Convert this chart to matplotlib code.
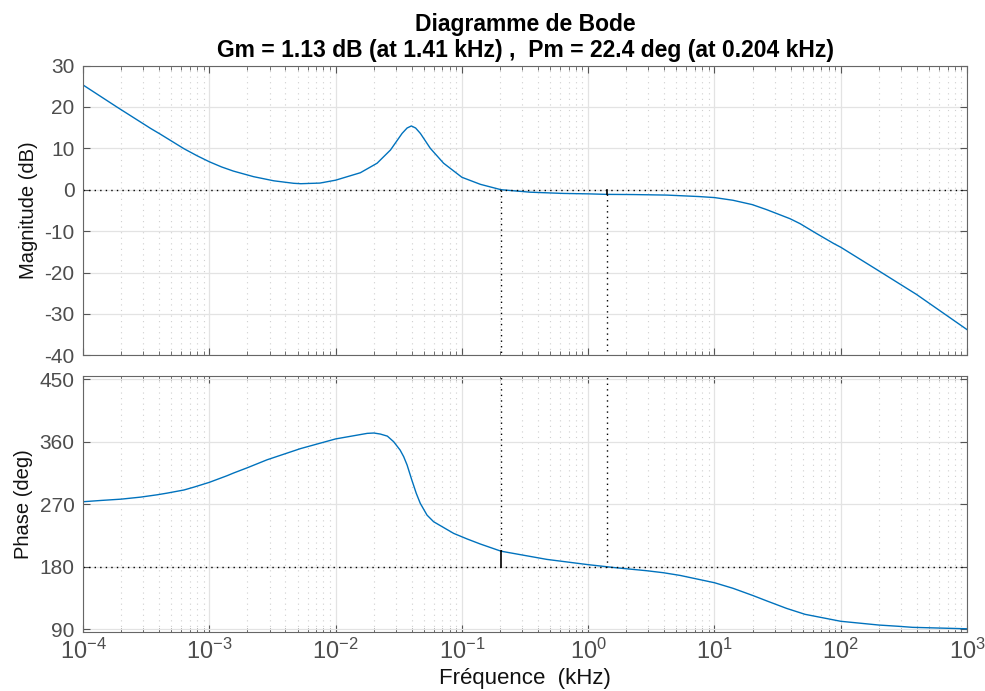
import matplotlib
matplotlib.use("Agg")
import matplotlib.pyplot as plt
import numpy as np
from matplotlib.ticker import LogLocator, LogFormatterMathtext, NullFormatter, FixedLocator

plt.rcParams['font.family'] = ['Liberation Sans', 'DejaVu Sans']
plt.rcParams['mathtext.default'] = 'regular'
plt.rcParams['axes.unicode_minus'] = False

# valeurs (frequence en kHz)
freq_mag = [1.0e-4, 1.87e-4, 3.43e-4, 4.1e-4, 6.3e-4, 8.0e-4, 1.0e-3, 1.25e-3, 1.55e-3, 2.24e-3,
            3.24e-3, 4.65e-3, 5.3e-3, 7.5e-3, 1.0e-2, 1.57e-2, 2.13e-2, 2.72e-2, 3.36e-2,
            3.68e-2, 3.98e-2, 4.3e-2, 4.69e-2, 5.62e-2, 7.16e-2, 0.1, 0.14, 0.204, 0.348,
            0.638, 1.0, 1.41, 2.27, 4.2, 7.5, 10, 14.0, 19.9, 25.8, 39.6, 47.6, 64.4,
            87.9, 100, 200, 398, 1000]
mag_db = [25.3, 19.9, 14.8, 13.4, 9.9, 8.2, 6.75, 5.5, 4.5, 3.15,
          2.15, 1.55, 1.45, 1.6, 2.3, 4.1, 6.4, 9.6, 13.6,
          14.9, 15.4, 14.9, 13.6, 10.0, 6.4, 3.0, 1.3, 0.0, -0.6,
          -0.9, -1.0, -1.13, -1.17, -1.3, -1.65, -1.9, -2.55, -3.6, -4.8, -7.0, -8.2, -10.6,
          -13.0, -13.9, -19.6, -25.3, -33.8]

freq_ph = [1e-4, 1.38e-4, 2e-4, 2.85e-4, 3.87e-4, 4.64e-4, 6.3e-4, 7.55e-4, 1e-3, 1.38e-3,
           1.56e-3, 2e-3, 2.87e-3, 5.26e-3, 1e-2, 1.78e-2, 2.01e-2, 2.26e-2, 2.57e-2,
           2.88e-2, 3.24e-2, 3.46e-2, 3.68e-2, 4.01e-2, 4.35e-2, 4.68e-2, 5.29e-2,
           5.97e-2, 8.61e-2, 0.11, 0.14, 0.204, 0.47, 1.0, 1.41, 1.57, 2.9, 3.94, 5.35,
           10, 14.0, 20.2, 25.8, 37.3, 52.2, 100, 200, 286, 370, 1000]
phase_deg = [273.6, 275.4, 277.3, 280.2, 283.6, 286, 290.5, 294.6, 301.5, 311,
             315, 322.5, 334, 350, 364, 372, 372.5, 371, 368,
             360, 348, 338.4, 326.5, 305, 285.7, 271.3, 254.4,
             244.8, 228, 220, 212.7, 202.4, 190.6, 183, 180, 179, 174.3, 171.4, 167.5,
             157, 149, 138.5, 131, 120, 111.5, 101.5, 96.1, 94.3, 92.8, 90.7]

decades = [1e-4, 1e-3, 1e-2, 1e-1, 1e0, 1e1, 1e2, 1e3]

f_gm, gm_db = 1.41, 1.13      # marge de gain
f_pm, pm_deg = 0.204, 22.4    # marge de phase

bleu = '#0072BD'
gris = '#4d4d4d'

fig = plt.figure(figsize=(9.85, 6.91), dpi=100)
ax1 = fig.add_axes([0.0843, 0.4858, 0.8975, 0.4194])
ax2 = fig.add_axes([0.0843, 0.0858, 0.8975, 0.370])

for ax in (ax1, ax2):
    ax.set_xscale('log')
    ax.set_xlim(1e-4, 1e3)
    ax.xaxis.set_major_locator(FixedLocator(decades))
    ax.xaxis.set_minor_locator(LogLocator(base=10, subs=np.arange(2, 10), numticks=20))
    ax.xaxis.set_minor_formatter(NullFormatter())
    ax.grid(True, which='major', color='#e3e3e3', lw=0.9, ls='-')
    ax.grid(True, which='minor', axis='x', color='#cfcfcf', lw=0.8, ls=(0, (1, 4)))
    ax.set_axisbelow(True)
    ax.tick_params(which='both', direction='in', top=True, right=True, colors='#555555')
    ax.tick_params(which='major', length=5, width=0.8)
    ax.tick_params(which='minor', length=3, width=0.6)
    for s in ax.spines.values():
        s.set_color('#666666')
        s.set_linewidth(0.8)

# magnitude
ax1.semilogx(freq_mag, mag_db, color=bleu, lw=1.0)
ax1.axhline(0, color='black', lw=1.0, ls=(0, (1, 3)))
ax1.plot([f_pm, f_pm], [0, -40], color='black', lw=1.0, ls=(0, (1, 3)))
ax1.plot([f_gm, f_gm], [0, -gm_db], color='black', lw=1.2)
ax1.plot([f_gm, f_gm], [-gm_db, -40], color='black', lw=1.0, ls=(0, (1, 3)))
ax1.set_ylim(-40, 30)
ax1.yaxis.set_major_locator(FixedLocator([-40, -30, -20, -10, 0, 10, 20, 30]))
ax1.tick_params(axis='x', labelbottom=False)
ax1.tick_params(axis='y', labelsize=15, labelcolor=gris, pad=6)
ax1.set_ylabel('Magnitude (dB)', fontsize=14.5, color='#111111', labelpad=5)

# phase
ax2.semilogx(freq_ph, phase_deg, color=bleu, lw=1.0)
ax2.axhline(180, color='black', lw=1.0, ls=(0, (1, 3)))
ax2.plot([f_pm, f_pm], [460, 180 + pm_deg], color='black', lw=1.0, ls=(0, (1, 3)))
ax2.plot([f_pm, f_pm], [180 + pm_deg, 180], color='black', lw=1.2)
ax2.plot([f_gm, f_gm], [460, 180], color='black', lw=1.0, ls=(0, (1, 3)))
ax2.set_ylim(86.5, 454.5)
ax2.yaxis.set_major_locator(FixedLocator([90, 180, 270, 360, 450]))
ax2.xaxis.set_major_formatter(LogFormatterMathtext())
ax2.tick_params(axis='x', labelsize=17, labelcolor=gris, pad=5)
ax2.tick_params(axis='y', labelsize=15, labelcolor=gris, pad=6)
ax2.set_ylabel('Phase (deg)', fontsize=14.5, color='#111111', labelpad=5)
ax2.set_xlabel('Fréquence  (kHz)', fontsize=16, color='#111111', labelpad=3)

ax1.set_title('Diagramme de Bode\nGm = %.2f dB (at %.2f kHz) ,  Pm = %.1f deg (at %.3f kHz)'
              % (gm_db, f_gm, pm_deg, f_pm),
              fontsize=16.5, fontweight='bold', pad=6, linespacing=1.15)

fig.savefig('out.png', dpi=100)
